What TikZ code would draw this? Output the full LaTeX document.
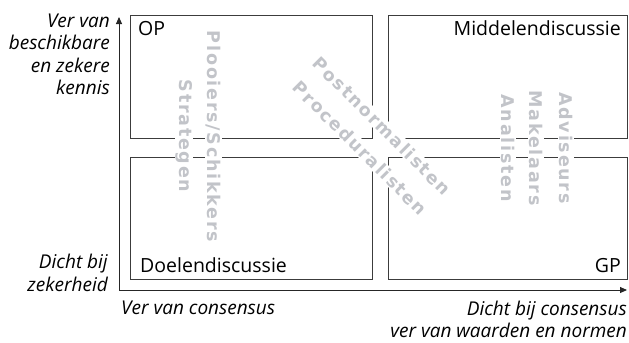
\documentclass[tikz,border=0pt]{standalone}
\usepackage{fontspec}
\setmainfont{Open Sans}
\newfontfamily\grayfont[LetterSpace=10]{DejaVu Sans}
\usetikzlibrary{arrows.meta}
\definecolor{ghost}{RGB}{194,196,201}
\definecolor{boxline}{RGB}{60,60,60}
\begin{document}
\begin{tikzpicture}[x=1bp,y=-1bp,
  quad/.style={draw=boxline,line width=0.9bp,inner sep=0pt,outer sep=0pt,anchor=north west},
  axis/.style={draw=black!85,line width=0.9bp,-{Triangle[length=7bp,width=6bp]}},
  lbl/.style={font=\fontsize{19.5bp}{22bp}\selectfont,inner sep=0pt},
  axlbl/.style={font=\fontsize{19bp}{22bp}\selectfont\itshape,inner sep=0pt},
  ghosttext/.style={font=\fontsize{17.5bp}{20bp}\selectfont\grayfont\bfseries,text=ghost,fill=white,inner sep=1bp}]
\useasboundingbox (0,0) rectangle (629,342);
% axes
\coordinate (o) at (119,290);
\coordinate (ytop) at (119,17);
\coordinate (xend) at (627,290);
\draw[axis] (o) -- (ytop);
\draw[axis] (o) -- (xend);
% quadrants
\node[quad,minimum width=242bp,minimum height=123bp] (tl) at (130,15) {};
\node[quad,minimum width=239bp,minimum height=123bp] (tr) at (388,15) {};
\node[quad,minimum width=242bp,minimum height=122bp] (bl) at (130,157) {};
\node[quad,minimum width=239bp,minimum height=122bp] (br) at (388,157) {};
% quadrant labels
\node[lbl,anchor=base west] (op) at (138,35) {OP};
\node[lbl,anchor=base east] (mid) at (621,35) {Middelendiscussie};
\node[lbl,anchor=base west] (doel) at (140,272) {Doelendiscussie};
\node[lbl,anchor=base east] (gp) at (621,272) {GP};
% axis labels
\node[axlbl,anchor=base east] (y1) at (110,27) {Ver van};
\node[axlbl,anchor=base east] (y2) at (110,49.5) {beschikbare};
\node[axlbl,anchor=base east] (y3) at (110,72) {en zekere};
\node[axlbl,anchor=base east] (y4) at (110,94.5) {kennis};
\node[axlbl,anchor=base east] (y5) at (108,268) {Dicht bij};
\node[axlbl,anchor=base east] (y6) at (108,291) {zekerheid};
\node[axlbl,anchor=base west] (x1) at (121,314) {Ver van consensus};
\node[axlbl,anchor=base east] (x2) at (627,315) {Dicht bij consensus};
\node[axlbl,anchor=base east] (x3) at (627,337) {ver van waarden en normen};
% ghost labels
\node[ghosttext,rotate=-90] (plo) at (213.5,136.5) {Plooiers/Schikkers};
\node[ghosttext,rotate=-90] (str) at (184,136) {Strategen};
\node[ghosttext,rotate=-90] (adv) at (566,148) {Adviseurs};
\node[ghosttext,rotate=-90] (mak) at (536,148) {Makelaars};
\node[ghosttext,rotate=-90] (ana) at (508,148) {Analisten};
\node[ghosttext,rotate=-45] (pos) at (382,126) {Postnormalisten};
\node[ghosttext,rotate=-45] (pro) at (360,148) {Proceduralisten};
\end{tikzpicture}
\end{document}
